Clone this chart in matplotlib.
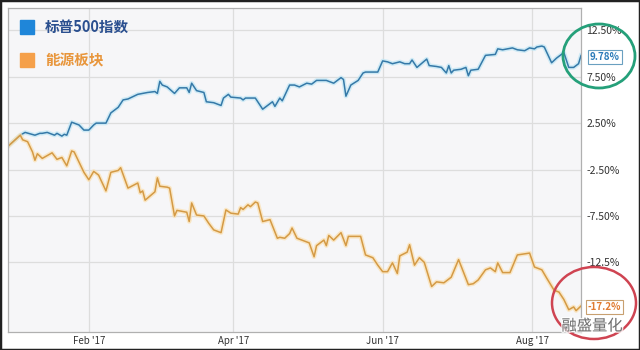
import matplotlib
matplotlib.use("Agg")
import matplotlib.pyplot as plt
import matplotlib.patches as patches
import matplotlib.dates as mdates
import matplotlib.patheffects as pe
import pandas as pd

plt.rcParams["font.family"] = ["Noto Sans CJK SC", "DejaVu Sans"]

# day offsets from 2017-01-01, cumulative return in %
sp_days = [-2, 3, 5, 9, 11, 12, 14, 17, 18, 20, 21, 22, 24, 27, 29, 31, 33, 34, 36, 38,
           40, 43, 45, 47, 51, 55, 58, 59, 60, 61, 63, 66, 68, 71, 72, 73, 75, 78, 79, 82,
           85, 86, 88, 89, 93, 94, 95, 99, 102, 106, 107, 109, 110, 113, 115, 117, 120, 122,
           124, 128, 129, 131, 134, 135, 136, 138, 141, 143, 144, 146, 149, 151, 153, 155,
           158, 160, 162, 163, 165, 169, 170, 173, 175, 177, 178, 179, 180, 183, 185, 186,
           187, 190, 192, 193, 197, 198, 200, 204, 206, 209, 211, 213, 214, 216, 217, 220,
           222, 225, 227, 229, 231, 232]
sp_vals = [0.0, 1.2, 1.5, 1.2, 1.4, 1.4, 1.5, 1.2, 1.4, 1.1, 1.3, 1.2, 2.6, 2.3, 1.75, 1.75,
           2.3, 2.5, 2.5, 2.5, 3.6, 4.2, 5.0, 5.1, 5.6, 5.8, 5.9, 5.7, 7.0, 6.6, 6.4, 5.7,
           6.3, 6.3, 5.8, 6.8, 6.0, 5.8, 4.8, 4.7, 4.4, 5.2, 5.6, 5.3, 5.2, 5.0, 5.2, 5.2,
           4.0, 4.8, 4.3, 5.2, 4.9, 6.6, 6.6, 6.4, 6.8, 6.7, 7.1, 7.1, 7.0, 6.8, 7.4, 7.2,
           5.4, 6.6, 7.1, 7.9, 8.0, 8.0, 8.0, 9.2, 9.1, 8.9, 9.1, 8.9, 8.9, 9.3, 8.5, 9.4,
           8.7, 8.6, 8.5, 7.9, 8.7, 7.9, 8.2, 8.3, 8.5, 7.6, 8.2, 8.3, 9.3, 9.8, 9.9, 10.5,
           10.4, 10.6, 10.4, 10.3, 10.6, 10.5, 10.7, 10.8, 10.7, 9.0, 9.5, 10.1, 8.5, 8.5,
           8.9, 9.78]

en_days = [-2, 3, 4, 6, 8, 9, 10, 12, 16, 18, 20, 22, 24, 25, 29, 31, 33, 35, 38, 40, 43,
           44, 47, 51, 52, 53, 54, 58, 59, 60, 63, 64, 66, 67, 71, 72, 73, 75, 78, 80, 82,
           85, 87, 89, 92, 93, 94, 96, 97, 99, 100, 102, 105, 108, 109, 111, 113, 114, 116,
           119, 121, 123, 124, 127, 128, 129, 131, 134, 136, 137, 142, 144, 147, 149, 151,
           153, 155, 157, 158, 161, 162, 164, 166, 168, 171, 173, 176, 179, 182, 186, 188,
           190, 193, 195, 197, 198, 200, 203, 206, 211, 213, 216, 218, 221, 223, 225, 227,
           229, 230, 232]
en_vals = [0.0, 1.2, 0.7, 0.5, -0.6, -1.5, -0.8, -1.3, -0.7, -1.4, -1.2, -2.1, -0.5, -0.6,
           -2.8, -3.6, -2.7, -3.1, -4.8, -2.8, -2.6, -2.3, -4.5, -3.95, -5.0, -4.8, -5.8,
           -4.9, -3.4, -4.3, -4.4, -4.5, -7.5, -6.9, -7.1, -8.1, -6.1, -7.4, -7.5, -8.3,
           -9.0, -9.3, -6.85, -7.2, -7.3, -6.6, -6.8, -6.3, -6.5, -6.0, -6.1, -8.1, -7.9,
           -9.9, -9.8, -9.9, -9.4, -8.8, -9.9, -10.2, -10.4, -11.9, -10.7, -10.1, -10.7,
           -9.6, -10.1, -9.3, -10.7, -9.7, -9.7, -11.7, -12.0, -12.8, -13.5, -13.5, -12.55,
           -13.7, -11.8, -11.4, -10.6, -12.8, -12.0, -12.5, -15.1, -14.6, -14.7, -14.1,
           -12.2, -14.9, -14.8, -14.4, -13.3, -13.1, -13.5, -12.55, -13.6, -13.6, -11.7,
           -11.5, -13.0, -13.3, -14.2, -15.5, -15.7, -16.5, -17.6, -17.3, -17.7, -17.2]

series_names = ["标普500指数", "能源板块"]
y_ticks = [12.5, 7.5, 2.5, -2.5, -7.5, -12.5]
y_tick_labels = ["12.50%", "7.50%", "2.50%", "-2.50%", "-7.50%", "-12.5%"]
x_ticks = ["2017-02-01", "2017-04-01", "2017-06-01", "2017-08-01"]
x_tick_labels = ["Feb '17", "Apr '17", "Jun '17", "Aug '17"]
last_labels = ["9.78%", "-17.2%"]

base = pd.Timestamp("2017-01-01")
sp_dates = [base + pd.Timedelta(days=d) for d in sp_days]
en_dates = [base + pd.Timedelta(days=d) for d in en_days]

blue = "#3579a8"
orange = "#d49a45"

fig = plt.figure(figsize=(6.4, 3.5), dpi=100)
ax = fig.add_axes([8 / 640, 18 / 350, 573 / 640, 324 / 350])
ax.set_facecolor("#f6f6f8")

ax.plot(sp_dates, sp_vals, color="#bfe6f5", lw=3.2, alpha=0.7, solid_joinstyle="round")
ax.plot(sp_dates, sp_vals, color=blue, lw=1.1)
ax.plot(en_dates, en_vals, color="#fbe0b0", lw=3.2, alpha=0.7, solid_joinstyle="round")
ax.plot(en_dates, en_vals, color=orange, lw=1.1)

ax.set_xlim(base + pd.Timedelta(days=-2), base + pd.Timedelta(days=232))
ax.set_ylim(-20, 14.9)

ax.set_yticks(y_ticks)
ax.set_yticklabels(y_tick_labels)
ax.yaxis.tick_right()
ax.tick_params(axis="y", length=0, pad=4, labelsize=7.5, labelcolor="#333333")
ax.set_xticks(pd.to_datetime(x_ticks))
ax.set_xticklabels(x_tick_labels)
ax.tick_params(axis="x", length=0, pad=3, labelsize=7, labelcolor="#333333")
ax.grid(True, color="#dddddd", lw=0.9)
for s in ax.spines.values():
    s.set_color("#b0b0b0")
    s.set_linewidth(0.9)

# legend
fig.patches.append(patches.Rectangle((20 / 640, 1 - 34 / 350), 14 / 640, 14 / 350,
                                     transform=fig.transFigure, color="#1f86d9"))
fig.patches.append(patches.Rectangle((20 / 640, 1 - 67 / 350), 14 / 640, 14 / 350,
                                     transform=fig.transFigure, color="#f5a04a"))
fig.text(45 / 640, 1 - 27 / 350, series_names[0], color="#2a4f8f", fontsize=10.5,
         fontweight="bold", va="center")
fig.text(45 / 640, 1 - 60 / 350, series_names[1], color="#e8963c", fontsize=10.5,
         fontweight="bold", va="center")

# last value boxes
fig.text(590 / 640, 1 - 57 / 350, last_labels[0], color="#2a7ab8", fontsize=7,
         fontweight="bold", va="center",
         bbox=dict(boxstyle="square,pad=0.2", fc="white", ec="#6aa0c0", lw=0.8))
fig.text(588 / 640, 1 - 307 / 350, last_labels[1], color="#e07a30", fontsize=7,
         fontweight="bold", va="center",
         bbox=dict(boxstyle="square,pad=0.2", fc="white", ec="#c8a070", lw=0.8))

# hand-drawn circles
fig.patches.append(patches.Ellipse((599 / 640, 1 - 56 / 350), 72 / 640, 64 / 350,
                                   transform=fig.transFigure, fill=False,
                                   ec="#25a07a", lw=2))
fig.patches.append(patches.Ellipse((594 / 640, 1 - 303 / 350), 84 / 640, 72 / 350,
                                   transform=fig.transFigure, fill=False,
                                   ec="#cf4452", lw=1.8))

# watermark
fig.text(592 / 640, 1 - 326 / 350, "融盛量化", color="#555555", fontsize=11,
         ha="center", va="center", alpha=0.8,
         path_effects=[pe.withStroke(linewidth=2, foreground="white")])

# outer frame
fig.patches.append(patches.Rectangle((0, 0), 1, 1, transform=fig.transFigure,
                                     fill=False, ec="#222222", lw=2.5))

fig.savefig("out.png", dpi=100, facecolor="white")
